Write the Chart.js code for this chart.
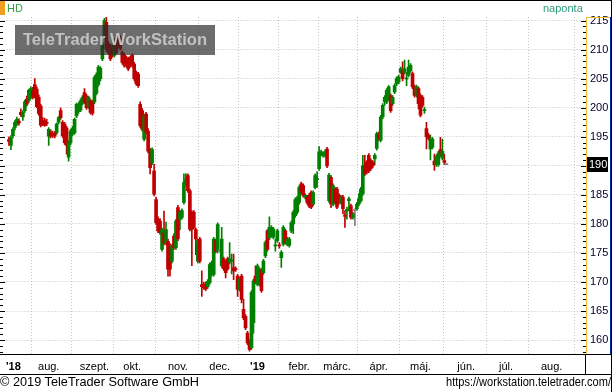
<!DOCTYPE html>
<html><head><meta charset="utf-8">
<script src="https://cdn.jsdelivr.net/npm/chart.js@4.4.1/dist/chart.umd.min.js"></script>
<style>
html,body{margin:0;padding:0;background:#fff;}
#wrap{position:relative;width:612px;height:392px;overflow:hidden;background:#fff;}
canvas{position:absolute;left:0;top:0;}
.t{position:absolute;white-space:nowrap;font-family:"Liberation Sans",Arial,sans-serif;transform-origin:0 0;line-height:1;}
</style></head><body>
<div id="wrap">
<canvas id="c" width="612" height="392"></canvas>
<div id="sym" class="t" style="left:7px;top:3.4px;font-size:11px;color:#2f9f3f;">HD</div>
<div id="per" class="t" style="left:543px;top:3.4px;font-size:11px;color:#2a9a7a;">naponta</div>
<div id="wm" style="position:absolute;left:15px;top:25px;width:200px;height:30px;background:rgba(40,40,40,0.68);"></div>
<div id="wmt" class="t" style="left:23px;top:31.2px;font-size:16.3px;font-weight:bold;color:#c2c2c2;">TeleTrader WorkStation</div>
<div id="copy" class="t" style="left:0px;top:376px;font-size:12.6px;color:#000;">© 2019 TeleTrader Software GmbH</div>
<div id="url" class="t" style="left:446px;top:376px;font-size:12.6px;color:#000;">https://workstation.teletrader.com/</div>
</div>
<script>
// ---- data (daily candles, first candle sits at slot FIRST) ----
const FIRST = 2;
const opens = [
194.5,193.5,195.2,196.6,197.2,197.7,199.2,198.4,199.5,201.5,
201.2,201.8,203.0,204.0,203.2,201.8,200.3,197.8,197.8,197.5,
195.1,195.8,195.5,195.6,195.7,197.5,199.5,197.5,197.2,196.5,
191.5,194.0,195.5,195.7,198.6,199.3,199.6,200.8,202.6,202.0,
200.2,201.2,201.0,201.0,202.5,204.0,205.0,208.4,212.4,214.7,
211.0,210.5,210.5,209.0,212.0,212.4,212.0,209.5,209.0,208.6,
208.4,208.6,209.0,207.5,206.0,205.8,200.6,199.5,194.6,198.9,
196.0,192.6,190.5,189.1,184.2,180.8,180.5,175.6,178.4,176.7,
177.0,176.2,173.6,177.9,175.9,182.8,180.8,181.1,183.7,186.8,
188.3,185.7,182.0,182.0,179.0,173.6,177.4,169.5,169.6,169.6,
169.2,169.9,171.3,171.3,177.1,175.3,175.3,172.8,174.0,173.4,
174.0,173.4,173.6,172.5,172.3,171.0,168.7,171.0,165.3,164.1,
161.2,159.8,158.7,163.0,171.0,169.6,169.6,172.0,171.6,174.5,
178.8,177.6,178.0,177.7,176.2,177.1,176.4,174.2,176.5,178.8,
176.5,176.3,178.8,180.0,181.4,182.0,183.7,186.9,186.6,184.6,
184.6,184.9,185.4,183.4,186.3,187.6,189.5,192.0,191.8,191.8,
192.9,184.0,188.0,183.4,186.0,186.0,184.9,183.7,184.6,181.5,
182.2,184.0,183.1,181.1,182.3,182.6,183.4,184.0,185.2,190.0,
190.6,191.8,190.9,190.6,191.2,193.0,195.5,194.4,198.4,201.0,
201.0,201.6,202.1,200.7,202.7,204.1,204.4,206.1,206.4,206.1,
204.9,205.6,206.4,205.9,203.6,202.1,203.3,202.1,201.8,199.5,
196.4,195.3,192.9,193.2,190.8,190.2,190.2,192.8,191.3,190.9,190.2];
const highs = [
195.0,195.2,196.6,197.8,198.4,198.1,199.8,199.5,201.3,202.0,
203.2,203.6,203.5,205.0,203.6,202.2,200.6,198.3,198.2,198.0,
196.6,196.2,196.0,195.9,197.4,198.5,200.0,197.8,197.5,196.8,
194.3,196.3,196.8,198.2,200.8,200.9,201.5,202.1,203.3,202.3,
202.0,201.5,201.3,205.5,206.0,207.3,207.1,211.3,215.4,215.6,
211.4,210.9,211.0,211.8,212.3,212.8,212.4,209.8,209.4,208.9,
208.7,208.9,209.3,207.8,206.3,206.1,201.0,199.9,198.9,199.2,
196.4,193.0,193.1,190.3,184.6,181.2,180.9,179.3,182.2,180.3,
177.4,176.6,176.5,178.3,180.8,183.2,182.3,182.6,188.6,188.6,
188.6,186.0,182.3,182.3,179.3,177.4,177.7,171.9,170.0,170.0,
170.4,173.3,173.6,177.7,177.4,180.2,175.3,179.4,174.3,173.7,
174.3,176.8,174.8,174.8,172.6,171.3,170.8,171.3,167.0,164.4,
161.5,160.1,168.5,170.5,172.8,173.1,172.5,172.3,173.9,177.1,
179.0,181.2,179.7,179.4,177.4,179.1,176.8,175.4,179.7,179.1,
177.7,177.7,180.5,182.3,184.5,184.8,186.6,187.2,186.9,185.2,
184.9,185.2,185.7,185.7,188.6,189.0,193.3,192.7,192.4,192.7,
193.2,188.7,188.3,186.9,186.3,186.3,185.2,184.9,184.9,182.3,
182.9,184.6,183.4,182.0,182.6,183.7,185.2,186.3,191.8,191.8,
190.9,192.1,191.2,190.9,192.1,195.8,195.8,198.7,200.7,202.1,
203.3,203.8,202.4,202.1,204.1,205.3,205.6,207.0,207.9,208.2,
206.1,208.2,207.6,206.2,203.9,203.9,203.6,202.4,202.1,200.1,
197.5,195.6,195.3,194.9,192.0,191.9,192.5,194.9,194.6,192.0,190.2];
const lows = [
193.5,192.8,194.8,196.2,196.9,197.0,198.5,197.8,199.2,200.3,
200.9,201.5,201.5,201.7,200.0,198.7,196.7,196.9,196.8,196.9,
193.5,194.8,194.9,194.8,195.4,197.2,198.0,194.9,193.7,192.0,
190.8,193.6,195.2,195.4,198.3,199.0,199.3,200.5,200.7,199.7,
199.9,198.9,198.7,200.7,202.2,203.7,204.6,208.1,212.0,209.7,
209.2,208.1,208.7,208.7,209.2,210.4,209.9,207.5,207.0,207.0,
206.4,207.0,207.0,204.7,203.9,203.5,196.6,196.0,194.3,195.5,
192.2,188.6,190.2,184.8,179.9,178.5,178.2,175.3,176.4,176.4,
171.0,171.0,173.3,175.6,175.6,177.1,179.0,180.8,183.4,186.5,
185.4,178.8,172.8,179.1,174.7,173.3,173.3,167.5,168.7,168.5,
168.9,169.6,171.0,171.0,175.0,175.0,175.3,172.5,172.0,170.7,
172.0,173.1,171.4,170.4,171.8,167.5,168.4,166.4,163.5,161.8,
159.2,158.1,158.4,161.2,169.7,169.3,169.3,168.2,171.3,174.2,
175.3,177.3,177.7,177.4,175.3,176.8,175.8,172.5,176.2,176.5,
176.2,176.0,178.5,178.3,181.1,181.7,183.4,185.1,184.6,184.3,
183.4,182.8,182.6,183.1,186.0,186.3,189.2,191.7,191.5,191.5,
189.7,183.7,182.8,183.1,183.4,182.6,183.4,183.4,181.7,179.4,
180.8,182.3,180.8,180.8,179.7,182.3,183.1,183.7,184.9,188.3,
188.6,188.8,189.2,189.7,190.2,192.7,194.3,194.1,198.1,200.4,
200.7,201.3,199.2,200.4,202.4,203.8,204.1,205.9,204.6,205.8,
203.8,205.3,206.1,203.3,201.8,201.8,199.8,198.4,200.1,199.0,
192.9,194.4,191.0,192.9,189.2,189.9,189.9,191.6,191.0,190.2,190.2];
const closes = [
194.2,194.8,196.3,197.5,198.0,197.4,198.8,199.2,201.0,200.6,
203.0,203.3,201.8,202.0,200.2,199.0,197.0,197.2,197.0,197.3,
196.3,195.1,195.3,195.1,197.2,198.3,198.3,195.2,194.0,193.5,
194.0,196.0,196.5,198.0,200.6,200.6,201.2,201.8,201.0,200.0,
201.8,199.2,199.0,205.2,205.7,207.0,206.8,211.0,215.0,210.0,
209.5,208.4,209.0,211.5,209.5,210.7,210.2,207.8,207.3,207.3,
206.7,207.3,207.3,205.0,204.2,203.8,196.9,196.3,198.6,195.8,
192.5,189.7,192.8,185.1,180.2,178.8,178.5,179.0,176.7,179.0,
172.2,172.2,176.2,175.9,180.5,177.4,182.0,182.3,187.1,187.7,
185.7,179.1,179.1,179.4,177.4,177.1,173.6,169.2,169.0,168.8,
170.1,173.0,173.3,177.4,175.3,179.9,175.3,177.4,172.3,171.6,
172.3,174.0,173.8,171.9,172.1,168.7,170.5,167.0,163.8,162.1,
159.5,158.4,168.2,170.2,170.0,172.8,172.2,168.5,173.6,176.8,
175.6,179.4,179.4,179.1,176.4,178.8,176.2,175.1,179.4,176.8,
177.4,177.4,180.2,182.0,184.2,184.5,186.3,185.4,184.9,184.9,
183.7,183.1,182.9,185.4,188.3,187.8,192.4,192.4,192.1,192.4,
190.0,188.4,183.4,186.6,183.7,182.9,183.7,184.6,182.6,181.3,
182.5,184.3,181.1,181.7,182.3,183.4,184.3,186.0,190.0,188.6,
188.9,189.1,189.5,190.0,191.8,195.5,194.6,198.4,200.4,201.8,
203.0,203.6,199.5,201.8,203.8,205.0,205.3,206.7,205.0,206.7,
205.1,207.0,207.3,203.6,202.1,203.6,200.7,198.7,200.4,199.7,
195.0,194.7,194.6,194.6,190.2,191.6,192.2,192.2,192.5,190.6,190.2];

// ---- axis tick labels ----
const monthTickPos    = [4.25, 22, 45, 64, 87, 108, 127, 148, 167, 188, 209, 232, 252, 275];
const monthTickLabels = ["'18","aug.","szept.","okt.","nov.","dec.","'19","febr.","márc.","ápr.","máj.","jún.","júl.","aug."];
const priceTicks = [160,165,170,175,180,185,190,195,200,205,210,215];
const lastPriceLabel = "190";

const UP = '#008000', DOWN = '#c00000', FLAT = '#808080';
const colorOf = (k) => closes[k] > opens[k] ? UP : (closes[k] < opens[k] ? DOWN : FLAT);

const wickData = highs.map((h, k) => ({x: FIRST + k, y: [lows[k], h]}));
const bodyData = opens.map((o, k) => ({x: FIRST + k, y: [o, closes[k]]}));

function line(ctx, x1, y1, x2, y2) { ctx.beginPath(); ctx.moveTo(x1, y1); ctx.lineTo(x2, y2); ctx.stroke(); }

const deco = {
  id: 'deco',
  afterDraw(chart) {
    const {ctx, chartArea: a, scales: {x, y}} = chart;
    ctx.save();
    ctx.fillStyle = '#000';
    ctx.fillRect(0, 0, 612, 1);
    ctx.fillRect(611, 0, 1, 392);
    ctx.fillRect(0, a.bottom, 612, 1);
    ctx.fillRect(0, 374, 612, 1);
    ctx.fillRect(a.right - 1, a.bottom, 1, 20);
    ctx.fillStyle = '#f0a020';
    ctx.fillRect(0, 1, 5, 14);
    ctx.fillStyle = '#f0c030';
    ctx.fillRect(a.right, a.top, 1, a.bottom - a.top);
    ctx.fillRect(a.right, a.top, 24, 1);
    ctx.fillStyle = '#0028a8';
    ctx.fillRect(610, a.top, 1, a.bottom - a.top);
    ctx.strokeStyle = '#000'; ctx.lineWidth = 1;
    for (let v = Math.ceil(y.min); v <= y.max; v++) {
      const py = Math.round(y.getPixelForValue(v)) + 0.5;
      const len = v % 5 === 0 ? 5 : 3;
      line(ctx, 0, py, len, py);
      line(ctx, a.right - len, py, a.right, py);
    }
    const lp = closes[closes.length - 1];
    const py = y.getPixelForValue(lp);
    ctx.fillStyle = '#000';
    ctx.fillRect(a.right + 1, Math.round(py) - 8, 21, 15);
    ctx.fillStyle = '#fff';
    ctx.font = '11px "Liberation Sans", Arial, sans-serif';
    ctx.textBaseline = 'middle';
    ctx.textAlign = 'left';
    ctx.fillText(lastPriceLabel, a.right + 3, Math.round(py));
    ctx.restore();
  }
};

new Chart(document.getElementById('c'), {
  type: 'bar',
  data: {
    datasets: [
      {data: wickData, barThickness: 1, grouped: false, backgroundColor: (c) => colorOf(c.dataIndex), borderWidth: 0, order: 2},
      {data: bodyData, barThickness: 3, grouped: false, minBarLength: 1, backgroundColor: (c) => colorOf(c.dataIndex), borderWidth: 0, order: 1}
    ]
  },
  options: {
    responsive: false,
    animation: false,
    events: [],
    layout: {padding: {top: 17, left: 0, right: 0, bottom: 0}},
    plugins: {legend: {display: false}, tooltip: {enabled: false}},
    scales: {
      x: {
        type: 'linear', min: -0.75, max: 292.25, offset: false,
        afterBuildTicks: (s) => { s.ticks = monthTickPos.map(v => ({value: v})); },
        afterFit: (s) => { s.height = 38; },
        ticks: {
          autoSkip: false, maxRotation: 0, minRotation: 0, padding: 6, color: '#000',
          font: (c) => ({family: '"Liberation Sans", Arial, sans-serif', size: 11, weight: (c.tick && String(c.tick.label).startsWith("'")) ? 'bold' : 'normal'}),
          callback: (v) => { const k = monthTickPos.indexOf(v); return k >= 0 ? monthTickLabels[k] : ''; }
        },
        grid: {drawTicks: false, color: (c) => (c.tick && c.tick.value === monthTickPos[0]) ? 'rgba(0,0,0,0)' : '#c4c4c4', lineWidth: 1},
        border: {display: false, dash: [1, 2]}
      },
      y: {
        type: 'linear', position: 'right', min: 157.6, max: 215.62,
        afterBuildTicks: (s) => { s.ticks = priceTicks.map(v => ({value: v})); },
        afterFit: (s) => { s.width = 26; },
        ticks: {padding: 4, color: '#000028', font: {family: '"Liberation Sans", Arial, sans-serif', size: 11}, callback: (v) => String(v)},
        grid: {drawTicks: false, color: '#c4c4c4', lineWidth: 1},
        border: {display: false, dash: [1, 2]}
      }
    }
  },
  plugins: [deco]
});

[['copy', 199], ['url', 165], ['wmt', 184]].forEach(([id, w]) => {
  const el = document.getElementById(id);
  const cw = el.getBoundingClientRect().width;
  if (cw > 0) el.style.transform = 'scaleX(' + (w / cw) + ')';
});
</script>
</body></html>
